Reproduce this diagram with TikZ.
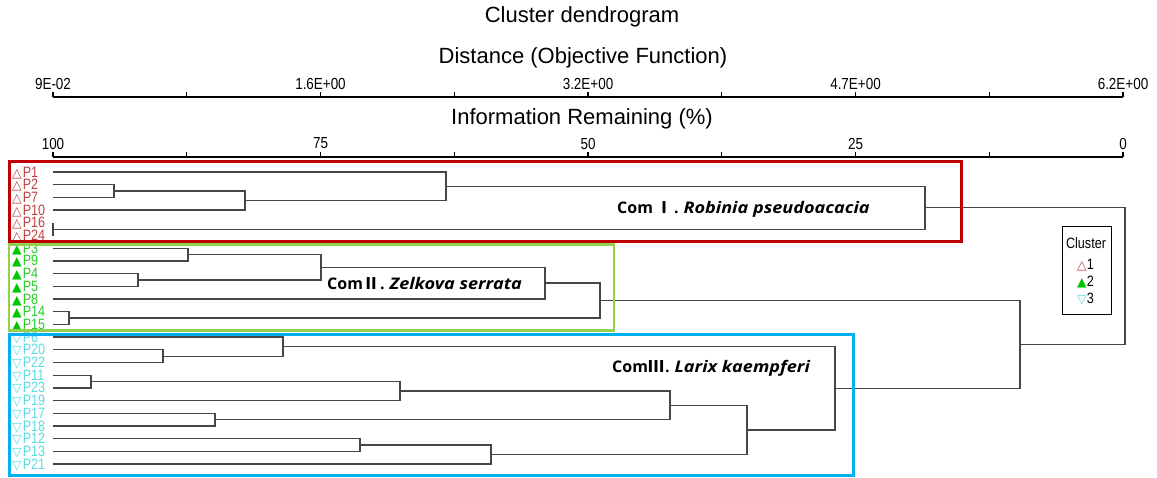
\documentclass[tikz,border=0pt]{standalone}
\usepackage{fontspec}
\usepackage{graphicx}
\setmainfont{Liberation Sans}
\newfontfamily\symfont{DejaVu Sans}
\newfontfamily\comfont{Open Sans}
\newfontfamily\cjkfont{Noto Sans CJK KR}
\newcommand\cnd[1]{\scalebox{0.84}[1]{#1}}
\newcommand\wideit[1]{\scalebox{1.13}[1]{\textit{#1}}}
\definecolor{dgray}{RGB}{70,70,70}
\definecolor{redlab}{RGB}{192,64,64}
\definecolor{greenlab}{RGB}{40,205,40}
\definecolor{greentri}{RGB}{0,200,0}
\definecolor{cyanlab}{RGB}{90,220,225}
\definecolor{redbox}{RGB}{192,0,0}
\definecolor{greenbox}{RGB}{146,208,80}
\definecolor{bluebox}{RGB}{0,176,240}
\begin{document}
\begin{tikzpicture}[x=1pt,y=-1pt,
  dline/.style={draw=dgray, line width=1.3pt},
  axisline/.style={draw=black, line width=1.8pt},
  ticklab/.style={inner sep=0pt, font=\fontsize{16}{16}\selectfont},
  bigtitle/.style={inner sep=0pt, font=\fontsize{22}{22}\selectfont},
  leaflab/.style={anchor=west, inner sep=0pt, text height=10pt, text depth=0pt,
    font=\fontsize{15}{15}\selectfont},
  comlab/.style={anchor=west, inner sep=0pt, font=\comfont\bfseries\fontsize{16}{16}\selectfont},
  legtext/.style={inner sep=0pt, font=\fontsize{15}{15}\selectfont}]
\useasboundingbox (0,0) rectangle (1157,477);
% titles
\node[bigtitle] (title) at (582,17) {Cluster dendrogram};
\node[bigtitle] (dist) at (583,58) {Distance (Objective Function)};
\node[bigtitle] (info) at (582,119) {Information Remaining (\%)};
% axes
\draw[axisline] (53,96.7) -- (1123,96.7);
\draw[axisline] (53,156.7) -- (1123,156.7);
\foreach \k in {0,...,8}{
  \draw[line width=1.3pt] (53+133.75*\k,96.7) -- ++(0,-5);
  \draw[line width=1.3pt] (53+133.75*\k,156.7) -- ++(0,-5);
}
\foreach \k/\t in {0/9E-02,2/1.6E+00,4/3.2E+00,6/4.7E+00,8/6.2E+00}
  \node[ticklab] (d\k) at (53+133.75*\k,83.5) {\cnd{\t}};
\foreach \k/\t in {0/100,2/75,4/50,6/25,8/0}
  \node[ticklab] (p\k) at (53+133.75*\k,143.5) {\cnd{\t}};
% leaves
\foreach \n/\i in {P1/0,P2/1,P7/2,P10/3,P16/4,P24/5}{
  \coordinate (\n) at (53,172+12.7*\i);
  \node[leaflab,text=redlab] (lab\n) at (12,172+12.7*\i) {{\symfont\fontsize{12.5}{12.5}\selectfont △}\kern1pt\cnd{\n}};
}
\foreach \n/\i in {P3/6,P9/7,P4/8,P5/9,P8/10,P14/11,P15/12}{
  \coordinate (\n) at (53,172+12.7*\i);
  \node[leaflab,text=greenlab] (lab\n) at (12,172+12.7*\i) {{\symfont\fontsize{12.5}{12.5}\selectfont\color{greentri}▲}\kern1pt\cnd{\n}};
}
\foreach \n/\i in {P6/13,P20/14,P22/15,P11/16,P23/17,P19/18,P17/19,P18/20,P12/21,P13/22,P21/23}{
  \coordinate (\n) at (53,172+12.7*\i);
  \node[leaflab,text=cyanlab] (lab\n) at (12,172+12.7*\i) {{\symfont\fontsize{12.5}{12.5}\selectfont ▽}\kern1pt\cnd{\n}};
}
% merge points
\coordinate (mA) at (114,191.05);
\coordinate (mB) at (245,200.6);
\coordinate (mC) at (446,186.3);
\coordinate (mD) at (53,229.15);
\coordinate (mE) at (925,207.7);
\coordinate (mF) at (188,254.55);
\coordinate (mG) at (138,279.95);
\coordinate (mH) at (321,267.25);
\coordinate (mI) at (545,283.1);
\coordinate (mJ) at (69,318.05);
\coordinate (mK) at (600,300.6);
\coordinate (mL) at (163,356.15);
\coordinate (mM) at (283,346.6);
\coordinate (mN) at (91,381.55);
\coordinate (mO) at (400,391.1);
\coordinate (mP) at (215,419.65);
\coordinate (mQ) at (670,405.4);
\coordinate (mR) at (360,445.05);
\coordinate (mS) at (491,454.6);
\coordinate (mT) at (747,430);
\coordinate (mU) at (835,388.3);
\coordinate (mV) at (1020,344.4);
\coordinate (mW) at (1125,276.1);
% connectors
\foreach \c/\p in {P2/mA,P7/mA,mA/mB,P10/mB,P1/mC,mB/mC,P16/mD,P24/mD,mC/mE,mD/mE,
  P3/mF,P9/mF,P4/mG,P5/mG,mF/mH,mG/mH,mH/mI,P8/mI,P14/mJ,P15/mJ,mI/mK,mJ/mK,
  P20/mL,P22/mL,P6/mM,mL/mM,P11/mN,P23/mN,mN/mO,P19/mO,P17/mP,P18/mP,mO/mQ,mP/mQ,
  P12/mR,P13/mR,mR/mS,P21/mS,mQ/mT,mS/mT,mM/mU,mT/mU,mK/mV,mU/mV,mE/mW,mV/mW}
  \draw[dline] (\c) -| (\p);
% community boxes
\draw[draw=redbox, line width=3pt] (9,161.7) rectangle (961,241);
\draw[draw=greenbox, line width=2.5pt] (9,244.5) rectangle (614,330.5);
\draw[draw=bluebox, line width=3pt] (9,334) rectangle (853,475.5);
% community labels
\node[comlab] (com1) at (617,209) {Com\kern3pt{\cjkfont\bfseries Ⅰ}\kern2pt.\kern5pt\wideit{Robinia pseudoacacia}};
\node[comlab] (com2) at (327,283.5) {Com{\cjkfont\bfseries Ⅱ}\kern1pt.\kern5pt\wideit{Zelkova serrata}};
\node[comlab] (com3) at (612,368.5) {Com{\cjkfont\bfseries Ⅲ}\kern1pt.\kern5pt\wideit{Larix kaempferi}};
% legend
\draw[line width=1pt] (1062,226) rectangle (1111,314);
\node[legtext] (legt) at (1086,243) {\cnd{Cluster}};
\node[legtext, anchor=west] (leg1) at (1077,265) {{\symfont\fontsize{12.5}{12.5}\selectfont\color{redlab}△}\cnd{1}};
\node[legtext, anchor=west] (leg2) at (1077,282) {{\symfont\fontsize{12.5}{12.5}\selectfont\color{greentri}▲}\cnd{2}};
\node[legtext, anchor=west] (leg3) at (1077,299) {{\symfont\fontsize{12.5}{12.5}\selectfont\color{cyanlab}▽}\cnd{3}};
\end{tikzpicture}
\end{document}
